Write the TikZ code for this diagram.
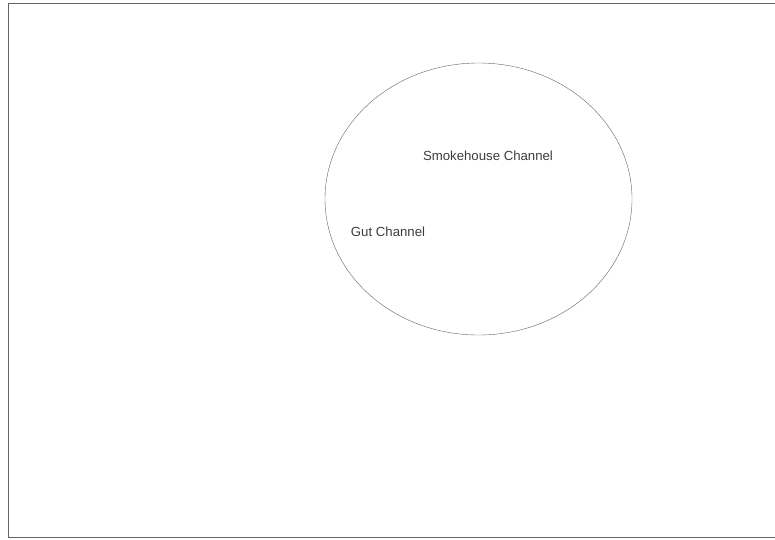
\documentclass[tikz,border=0pt]{standalone}
\usepackage{fontspec}
\setmainfont{Liberation Sans}
\usepackage{xcolor}
\usetikzlibrary{positioning, shapes}
\definecolor{myline}{RGB}{100, 100, 100}
\definecolor{mytext}{RGB}{60, 60, 60}

\begin{document}
\begin{tikzpicture}[x=1pt,y=-1pt,
    chanlabel/.style={font=\fontsize{13.2}{15}\selectfont,text=mytext,inner sep=0pt}]
        \useasboundingbox (0,0) rectangle (775,539);
        \clip (0,0) rectangle (775,539);
        \draw[myline,thin](8,3) rectangle (790,537);
        \draw[myline,thin](478.5,199) ellipse (153.5 and 136);
        \node[chanlabel] (smoke) at (488,156){Smokehouse Channel};
        \node[chanlabel] (gut) at (388,232){Gut Channel};
      \end{tikzpicture}
\end{document}
